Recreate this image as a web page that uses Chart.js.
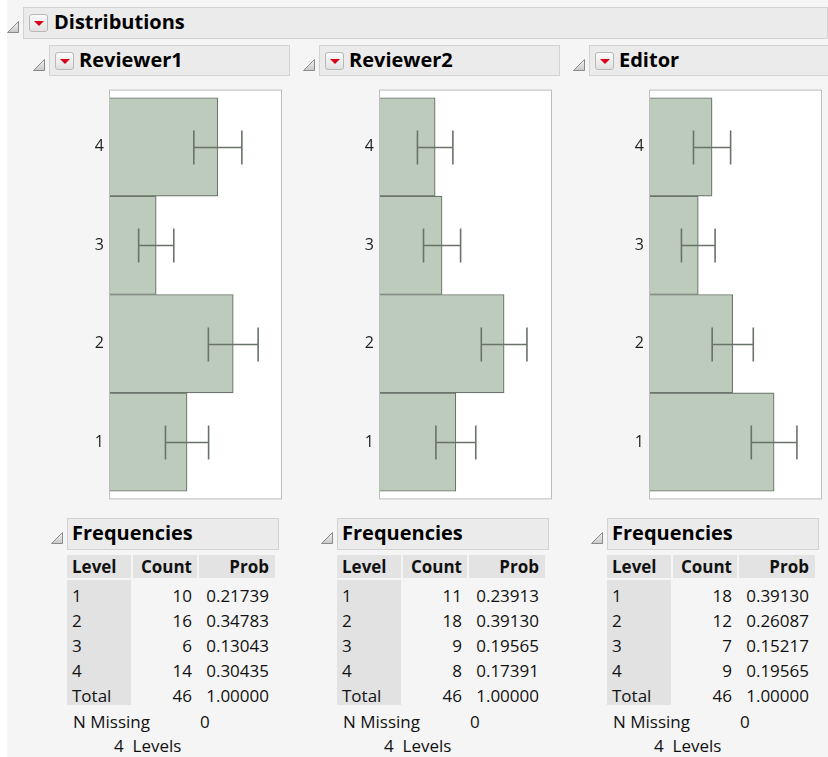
<!DOCTYPE html>
<html lang="en">
<head>
<meta charset="UTF-8">
<title>Distributions</title>
<script src="https://cdn.jsdelivr.net/npm/chart.js"></script>
<style>
  html, body { margin: 0; padding: 0; }
  body { width: 828px; height: 757px; background: #fff; position: relative; overflow: hidden;
         font-family: "Open Sans", "Noto Sans", sans-serif; color: #111; }
  #page { position: absolute; left: 7px; top: 0; right: 0; bottom: 0; background: #f5f5f5; }
  .hdr { position: absolute; background: #ebebeb; border: 1px solid #d2d2d2; box-sizing: border-box; }
  .hdr span { position: absolute; top: 50%; transform: translateY(-54%); font-weight: bold; font-size: 20px; white-space: nowrap; color: #000; }
  .tri { position: absolute; width: 12px; height: 12px; }
  .btn { position: absolute; width: 19px; height: 18px; box-sizing: border-box; border: 1px solid #b8b8b8;
         border-radius: 3px; background: linear-gradient(#fbfbfb, #e2e2e2); }
  .btn:after { content: ""; position: absolute; left: 4px; top: 6px; border-left: 5px solid transparent;
               border-right: 5px solid transparent; border-top: 5px solid #d9001b; }
  canvas.dist { position: absolute; }
  table.freq { position: absolute; border-collapse: separate; border-spacing: 2px 0; font-size: 17px; }
  table.freq th { background: #e3e3e3; font-weight: bold; height: 23px; line-height: 23px; padding: 0 5px;
                  border-bottom: 2px solid #f5f5f5; }
  table.freq td { padding: 6px 5px 0 5px; height: 19px; line-height: 19px; }
  table.freq .lv { background: #e2e2e2; text-align: left; padding-left: 5px; }
  table.freq .num { text-align: right; }
  .note { position: absolute; font-size: 17px; white-space: nowrap; }
</style>
</head>
<body>
<div id="page"></div>

<script>
// frequency data for the three rating variables
var levels = ['1', '2', '3', '4'];
var reviewer1Counts = [10, 16, 6, 14];
var reviewer2Counts = [11, 18, 9, 8];
var editorCounts = [18, 12, 7, 9];

var reviewer1Probs = [0.21739, 0.34783, 0.13043, 0.30435];
var reviewer2Probs = [0.23913, 0.39130, 0.19565, 0.17391];
var editorProbs = [0.39130, 0.26087, 0.15217, 0.19565];

// standard error of each count (half width of the error bar)
var reviewer1Se = [2.80, 3.23, 2.28, 3.12];
var reviewer2Se = [2.89, 3.31, 2.69, 2.57];
var editorSe = [3.31, 2.98, 2.44, 2.69];

var totalN = 46;
var nMissing = 0;

var page = document.body;

function triangleSvg(x, y) {
    var d = document.createElement('div');
    d.className = 'tri';
    d.style.left = x + 'px';
    d.style.top = y + 'px';
    d.innerHTML = '<svg width="12" height="12"><defs><linearGradient id="g" x1="0" y1="0" x2="0" y2="1">' +
        '<stop offset="0" stop-color="#f4f4f4"/><stop offset="1" stop-color="#c8c8c8"/></linearGradient></defs>' +
        '<polygon points="0.5,11.5 11.5,0.5 11.5,11.5" fill="url(#g)" stroke="#8a8a8a" stroke-width="1"/></svg>';
    page.appendChild(d);
}

function header(x, y, w, h, text, withButton, textX) {
    var box = document.createElement('div');
    box.className = 'hdr';
    box.style.left = x + 'px';
    box.style.top = y + 'px';
    box.style.width = w + 'px';
    box.style.height = h + 'px';
    var s = document.createElement('span');
    s.textContent = text;
    s.style.left = textX + 'px';
    box.appendChild(s);
    page.appendChild(box);
    if (withButton) {
        var b = document.createElement('div');
        b.className = 'btn';
        b.style.left = (x + 6) + 'px';
        b.style.top = (y + (h - 18) / 2) + 'px';
        page.appendChild(b);
    }
    triangleSvg(x - 16, y + h / 2 - 7);
}

header(23, 7, 805, 32, 'Distributions', true, 30);

// box around the plot, drawn behind the bars
var plotFrame = {
    id: 'plotFrame',
    beforeDatasetsDraw: function(chart) {
        var a = chart.chartArea, ctx = chart.ctx;
        ctx.save();
        ctx.fillStyle = '#ffffff';
        ctx.fillRect(a.left, a.top - 7, a.right - a.left, a.bottom - a.top + 14);
        ctx.strokeStyle = '#bdbdbd';
        ctx.lineWidth = 1;
        ctx.strokeRect(a.left - 0.5, a.top - 7.5, a.right - a.left + 1, a.bottom - a.top + 15);
        ctx.restore();
    }
};

// error bars: count +/- standard error
var errorBars = {
    id: 'errorBars',
    afterDatasetsDraw: function(chart) {
        var ctx = chart.ctx;
        var xs = chart.scales.x;
        var ds = chart.data.datasets[0];
        var meta = chart.getDatasetMeta(0);
        ctx.save();
        ctx.strokeStyle = '#6a736a';
        ctx.lineWidth = 1.6;
        meta.data.forEach(function(bar, i) {
            var lo = xs.getPixelForValue(ds.data[i] - ds.se[i]);
            var hi = xs.getPixelForValue(ds.data[i] + ds.se[i]);
            var y = Math.round(bar.y) + 0.5;
            ctx.beginPath();
            ctx.moveTo(lo, y); ctx.lineTo(hi, y);
            ctx.moveTo(lo, y - 17); ctx.lineTo(lo, y + 17);
            ctx.moveTo(hi, y - 17); ctx.lineTo(hi, y + 17);
            ctx.stroke();
        });
        ctx.restore();
    }
};

function distribution(col, title, counts, se, probs, xMax) {
    var x0 = col * 270;
    header(49 + x0, 45, 241, 31, title, true, 29);

    var cv = document.createElement('canvas');
    cv.className = 'dist';
    cv.width = 205;
    cv.height = 425;
    cv.style.left = (80 + x0) + 'px';
    cv.style.top = '82px';
    page.appendChild(cv);

    new Chart(cv.getContext('2d'), {
        type: 'bar',
        data: {
            labels: levels,
            datasets: [{
                data: counts,
                se: se,
                backgroundColor: '#bccbbc',
                borderColor: '#6b756b',
                borderWidth: 1.2,
                barPercentage: 1,
                categoryPercentage: 1
            }]
        },
        options: {
            indexAxis: 'y',
            responsive: false,
            animation: false,
            layout: { padding: { top: 0, bottom: 0, left: 0, right: 4 } },
            plugins: { legend: { display: false }, tooltip: { enabled: false } },
            scales: {
                x: { display: false, min: 0, max: xMax },
                y: {
                    reverse: true,
                    grid: { display: false, drawTicks: false },
                    border: { display: false },
                    ticks: { color: '#1e1e1e', padding: 6, font: { family: '"Open Sans", sans-serif', size: 16 } },
                    afterFit: function(scale) { scale.width = 30; }
                }
            }
        },
        plugins: [plotFrame, errorBars]
    });

    // frequencies report below the plot
    header(67 + x0, 518, 212, 32, 'Frequencies', false, 4);

    var rows = '<tr><th style="width:54px;text-align:left;padding-left:5px">Level</th>' +
        '<th style="width:54px;text-align:right">Count</th>' +
        '<th style="width:65px;text-align:right;padding-right:6px">Prob</th></tr>';
    levels.forEach(function(l, i) {
        rows += '<tr><td class="lv">' + l + '</td><td class="num">' + counts[i] + '</td>' +
            '<td class="num" style="padding-right:6px">' + probs[i].toFixed(5) + '</td></tr>';
    });
    rows += '<tr><td class="lv">Total</td><td class="num">' + totalN + '</td>' +
        '<td class="num" style="padding-right:6px">' + (1).toFixed(5) + '</td></tr>';
    var t = document.createElement('table');
    t.className = 'freq';
    t.style.left = (65 + x0) + 'px';
    t.style.top = '555px';
    t.innerHTML = rows;
    page.appendChild(t);

    var n1 = document.createElement('div');
    n1.className = 'note';
    n1.style.left = (73 + x0) + 'px';
    n1.style.top = '710px';
    n1.textContent = 'N Missing';
    page.appendChild(n1);
    var n2 = document.createElement('div');
    n2.className = 'note';
    n2.style.left = (200 + x0) + 'px';
    n2.style.top = '710px';
    n2.textContent = String(nMissing);
    page.appendChild(n2);
    var n3 = document.createElement('div');
    n3.className = 'note';
    n3.style.left = (114 + x0) + 'px';
    n3.style.top = '734px';
    n3.innerHTML = levels.length + '&nbsp;&nbsp;Levels';
    page.appendChild(n3);
}

distribution(0, 'Reviewer1', reviewer1Counts, reviewer1Se, reviewer1Probs, 22.2);
distribution(1, 'Reviewer2', reviewer2Counts, reviewer2Se, reviewer2Probs, 24.8);
distribution(2, 'Editor', editorCounts, editorSe, editorProbs, 24.8);
</script>
</body>
</html>
